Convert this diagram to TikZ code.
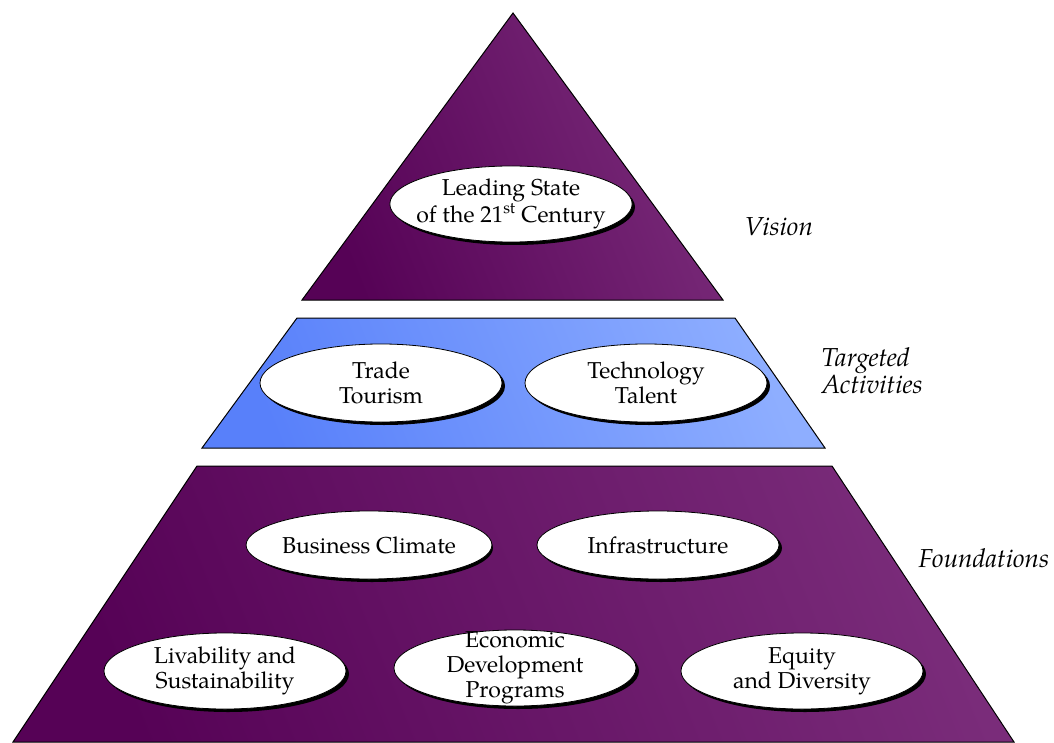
\documentclass[tikz,border=0pt]{standalone}
\usepackage{fontspec}
\setmainfont{TeX Gyre Pagella}
\usetikzlibrary{shapes.geometric,calc}
\definecolor{pdark}{RGB}{86,2,86}
\definecolor{plight}{RGB}{122,44,122}
\definecolor{bdark}{RGB}{88,128,250}
\definecolor{blight}{RGB}{142,174,255}
\tikzset{
  tier/.style={draw=black, line width=1pt, line join=miter},
  purp/.style={tier, left color=pdark, right color=plight, shading angle=112},
  blu/.style={tier, left color=bdark, right color=blight, shading angle=112},
  oval/.style={ellipse, draw=black, line width=0.8pt, fill=white, minimum width=242pt, minimum height=76pt, inner sep=0pt, align=center, font=\fontsize{23}{25}\selectfont},
  ovalshadow/.style={ellipse, fill=black, minimum width=242pt, minimum height=76pt, inner sep=0pt},
  side/.style={font=\fontsize{26}{27}\selectfont\itshape, align=left, anchor=west}
}
\begin{document}
\begin{tikzpicture}[x=1pt,y=-1pt]
\useasboundingbox (0,0) rectangle (1054,743);
% tiers
\path[purp] (513,13) -- (723,300) -- (302,300) -- cycle;
\path[blu] (297,318) -- (735,318) -- (825,448) -- (202,448) -- cycle;
\path[purp] (197,466) -- (832,466) -- (1014,742) -- (13,742) -- cycle;
% ovals
\node[ovalshadow] at (514,207) {};
\node[oval, inner xsep=-9pt] (vision) at (511,204) {Leading State\\of the 21\textsuperscript{st} Century};
\node[ovalshadow, minimum height=78pt] at (384,386) {};
\node[oval, minimum height=78pt] (trade) at (381,383) {Trade\\Tourism};
\node[ovalshadow, minimum height=78pt] at (649,386) {};
\node[oval, minimum height=78pt] (tech) at (646,383) {Technology\\Talent};
\node[ovalshadow, minimum height=68pt] at (372,548) {};
\node[oval, minimum height=68pt] (biz) at (369,545) {Business Climate};
\node[ovalshadow, minimum height=68pt] at (661,548) {};
\node[oval, minimum height=68pt] (infra) at (658,545) {Infrastructure};
\node[ovalshadow] at (228,674) {};
\node[oval] (liv) at (225,671) {Livability and\\Sustainability};
\node[ovalshadow] at (518,671) {};
\node[oval, inner ysep=-10pt] (econ) at (515,668) {Economic\\Development\\Programs};
\node[ovalshadow] at (805,674) {};
\node[oval] (eq) at (802,671) {Equity\\and Diversity};
% side labels
\node[side] (lv) at (741,227) {Vision};
\node[side] (lt) at (818,371) {Targeted\\Activities};
\node[side] (lf) at (915,558) {Foundations};
\end{tikzpicture}
\end{document}
